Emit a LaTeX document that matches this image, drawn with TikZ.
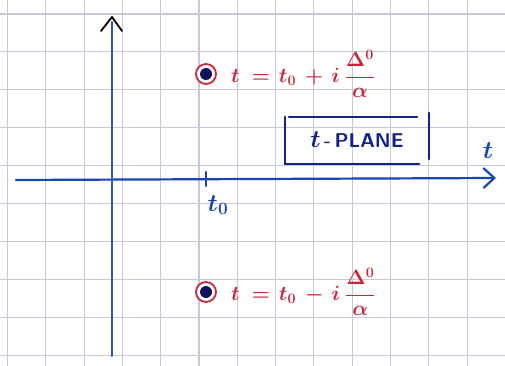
\documentclass[tikz,border=0pt]{standalone}
\usepackage{amsmath}
\usepackage{bm}
\usetikzlibrary{arrows.meta}
\definecolor{gridc}{RGB}{200,200,218}
\definecolor{axblue}{RGB}{40,90,190}
\definecolor{hblue}{RGB}{25,70,175}
\definecolor{navy}{RGB}{20,35,140}
\definecolor{penred}{RGB}{200,40,60}
\definecolor{dotblue}{RGB}{15,20,90}
\tikzset{
  gridline/.style={draw=gridc,line width=1.1pt},
  haxis/.style={draw=hblue,line width=2.2pt,line cap=round},
  vaxis/.style={draw=axblue,line width=2pt,line cap=round},
  ring/.style={circle,draw=penred,line width=1.8pt,fill=white,minimum size=20pt,inner sep=0pt},
  core/.style={circle,fill=dotblue,minimum size=12pt,inner sep=0pt},
  redtext/.style={text=penred,font=\fontsize{22}{26}\selectfont\boldmath,inner sep=0pt},
  bluetext/.style={text=hblue,font=\fontsize{26}{30}\selectfont\boldmath,inner sep=0pt},
  boxline/.style={draw=navy,line width=2.2pt,line cap=round},
}
\newcommand{\polefrac}{{\fontsize{20}{22}\selectfont$\dfrac{\Delta^{0}}{\alpha}$}}
\begin{document}
\begin{tikzpicture}[x=1pt,y=-1pt]
\useasboundingbox (0,0) rectangle (505,366);
\fill[white] (0,0) rectangle (505,366);
% grid paper
\foreach \i in {0,...,13} \draw[gridline] ({7.5+38.3*\i},0) -- ++(0,366);
\foreach \j in {0,...,9} \draw[gridline] (0,{14+37.9*\j}) -- ++(505,0);
% axes
\coordinate (xs) at (16,180);
\coordinate (xe) at (496,178);
\draw[haxis,-{Straight Barb[length=11pt,width=20pt,line width=2.2pt]}] (xs) -- (xe);
\coordinate (ys) at (112,356);
\coordinate (ye) at (112,22);
\draw[vaxis] (ys) -- (ye);
\coordinate (ytip) at (112,17);
\draw[black,line width=1.8pt,line cap=round,line join=round] ([shift={(-11,14)}]ytip) -- (ytip) -- ([shift={(10,14)}]ytip);
% tick at t0
\coordinate (tk) at (206,179);
\draw[haxis] ([yshift=-7]tk) -- ([yshift=7]tk);
\node[bluetext,font=\fontsize{24}{28}\selectfont\boldmath] (t0) at (218,205) {$t_0$};
% upper pole
\node[ring] (p1) at (206,74) {};
\node[core] (c1) at (p1) {};
\node[redtext,anchor=west] (l1) at (231,74)
  {$t\kern12pt{=}\kern9pt t_0\kern9pt{+}\kern8pt i$\kern5pt\polefrac};
% lower pole
\node[ring] (p2) at (206,292) {};
\node[core] (c2) at (p2) {};
\node[redtext,anchor=west] (l2) at (231,292)
  {$t\kern12pt{=}\kern9pt t_0\kern9pt{-}\kern8pt i$\kern5pt\polefrac};
% t-plane box
\node[text=navy,inner sep=0pt,minimum width=144pt,minimum height=50pt,
      font=\fontsize{30}{34}\selectfont\boldmath] (pl) at (357,140)
  {$t$\fontsize{20}{24}\selectfont\sffamily\bfseries\,-\,PLANE};
\draw[boxline] ([shift={(4,2)}]pl.north west) -- ([shift={(-12,2)}]pl.north east);
\draw[boxline] ([shift={(0,2)}]pl.north west) -- ([shift={(0,-1)}]pl.south west) -- ([shift={(-10,-1)}]pl.south east);
\draw[boxline] ([shift={(0,-2)}]pl.north east) -- ([shift={(0,-6)}]pl.south east);
% axis label
\node[bluetext] (tl) at (488,151) {$t$};
\end{tikzpicture}
\end{document}
